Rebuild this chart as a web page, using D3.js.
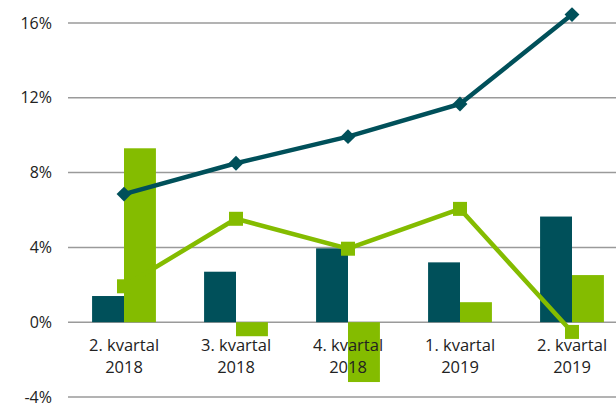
<!DOCTYPE html>
<html><head><meta charset="utf-8">
<script src="https://cdn.jsdelivr.net/npm/d3@7"></script>
<style>body{margin:0;background:#fff;}svg{display:block;}</style>
</head><body>
<svg id="c" width="616" height="403"></svg>
<script>
const categories = [["2. kvartal","2018"],["3. kvartal","2018"],["4. kvartal","2018"],["1. kvartal","2019"],["2. kvartal","2019"]];
const barsDark = [1.4, 2.7, 3.95, 3.2, 5.65];
const barsGreen = [9.3, -0.75, -3.2, 1.07, 2.52];
const lineDark = [6.85, 8.5, 9.92, 11.67, 16.45];
const lineGreen = [1.92, 5.53, 3.93, 6.06, -0.52];
const yTicks = [-4, 0, 4, 8, 12, 16];

const dark = "#00505a", green = "#84bc00";
const svg = d3.select("#c");
const x = d3.scaleBand().domain(d3.range(categories.length)).range([68, 628]).paddingInner(0.43).paddingOuter(0.215);
const y = d3.scaleLinear().domain([-4, 16]).range([397, 23]);
const bw = x.bandwidth()/2;
const cx = i => x(i) + x.bandwidth()/2;

// gridlines
svg.append("g").selectAll("line").data(yTicks).join("line")
  .attr("x1", 68).attr("x2", 616).attr("y1", d=>y(d)).attr("y2", d=>y(d))
  .attr("stroke", "#9a9a9a").attr("stroke-width", 1.5);

// y labels
svg.append("g").selectAll("text").data(yTicks).join("text")
  .attr("x", 52).attr("y", d=>y(d)).attr("dy", "0.35em").attr("text-anchor","end")
  .attr("font-family","Open Sans, sans-serif").attr("font-size",16).attr("fill","#222")
  .text(d=>d+"%");

// bars
svg.append("g").selectAll("rect").data(barsDark).join("rect")
  .attr("x",(d,i)=>x(i)).attr("width",bw)
  .attr("y",d=>y(Math.max(0,d))).attr("height",d=>Math.abs(y(d)-y(0))).attr("fill",dark);
svg.append("g").selectAll("rect").data(barsGreen).join("rect")
  .attr("x",(d,i)=>x(i)+bw).attr("width",bw)
  .attr("y",d=>y(Math.max(0,d))).attr("height",d=>Math.abs(y(d)-y(0))).attr("fill",green);

// x labels
const xl = svg.append("g").selectAll("text").data(categories).join("text")
  .attr("x",(d,i)=>cx(i)).attr("text-anchor","middle")
  .attr("font-family","Open Sans, sans-serif").attr("font-size",16.5).attr("fill","#222");
xl.append("tspan").attr("x",(d,i)=>cx(i)).attr("y",351).text(d=>d[0]);
xl.append("tspan").attr("x",(d,i)=>cx(i)).attr("y",373).text(d=>d[1]);

// lines
const line = d3.line().x((d,i)=>cx(i)).y(d=>y(d));
svg.append("path").datum(lineGreen).attr("d",line).attr("fill","none").attr("stroke",green).attr("stroke-width",4.5);
svg.append("g").selectAll("rect").data(lineGreen).join("rect")
  .attr("x",(d,i)=>cx(i)-7).attr("y",d=>y(d)-7).attr("width",14).attr("height",14).attr("fill",green);
svg.append("path").datum(lineDark).attr("d",line).attr("fill","none").attr("stroke",dark).attr("stroke-width",4.5);
svg.append("g").selectAll("path").data(lineDark).join("path")
  .attr("d",d3.symbol().type(d3.symbolDiamond2 || d3.symbolDiamond).size(140))
  .attr("transform",(d,i)=>`translate(${cx(i)},${y(d)})`).attr("fill",dark);
</script>
</body></html>
